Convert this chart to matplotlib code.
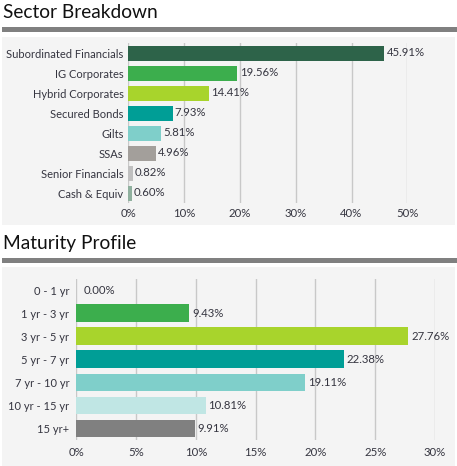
import matplotlib
matplotlib.use("Agg")
import matplotlib.pyplot as plt
from matplotlib.patches import Rectangle

W, H = 457, 466
DPI = 100

sector_labels = ["Subordinated Financials", "IG Corporates", "Hybrid Corporates",
                 "Secured Bonds", "Gilts", "SSAs", "Senior Financials", "Cash & Equiv"]
sector_values = [45.91, 19.56, 14.41, 7.93, 5.81, 4.96, 0.82, 0.60]
sector_colors = ["#2d6349", "#3cae4d", "#a8d42c", "#009e96", "#7fcfca",
                 "#a39f9b", "#c0c0c0", "#8fb09e"]
sector_ticks = [0, 10, 20, 30, 40, 50]

maturity_labels = ["0 - 1 yr", "1 yr - 3 yr", "3 yr - 5 yr", "5 yr - 7 yr",
                   "7 yr - 10 yr", "10 yr - 15 yr", "15 yr+"]
maturity_values = [0.00, 9.43, 27.76, 22.38, 19.11, 10.81, 9.91]
maturity_colors = ["#3cae4d", "#3cae4d", "#a8d42c", "#009e96", "#7fcfca",
                   "#c0e6e4", "#808080"]
maturity_ticks = [0, 5, 10, 15, 20, 25, 30]

plt.rcParams['font.family'] = ['Lato', 'DejaVu Sans']
TXT = "#353540"

fig = plt.figure(figsize=(W / DPI, H / DPI), dpi=DPI)
fig.patch.set_facecolor("white")


def px_rect(x0, y0, x1, y1):
    return [x0 / W, 1 - y1 / H, (x1 - x0) / W, (y1 - y0) / H]


def add_bg(x0, y0, x1, y1, color):
    r = Rectangle((x0 / W, 1 - y1 / H), (x1 - x0) / W, (y1 - y0) / H,
                  transform=fig.transFigure, facecolor=color, edgecolor="none", zorder=-10)
    fig.patches.append(r)


# Headers and panels
fig.text(3 / W, 1 - 12 / H, "Sector Breakdown", fontsize=13.8, color="#111111",
         ha="left", va="center")
add_bg(2, 27, 457, 32, "#808080")
add_bg(2, 37, 455, 225, "#f4f4f4")

fig.text(3 / W, 1 - 243 / H, "Maturity Profile", fontsize=13.8, color="#111111",
         ha="left", va="center")
add_bg(2, 258, 457, 263, "#808080")
add_bg(2, 267, 455, 466, "#f4f4f4")


def draw(ax, labels, values, colors, ticks, xmax, height, ypad, xpad):
    n = len(labels)
    ypos = list(range(n))
    ax.set_facecolor("none")
    ax.barh(ypos, values, color=colors, height=height, zorder=3)
    for y, v in zip(ypos, values):
        ax.text(v + xmax * 0.008 + (0.012 * xmax if v == 0 else 0), y, f"{v:.2f}%",
                va="center", ha="left", fontsize=8.2, color=TXT, zorder=4, clip_on=False)
    ax.set_xlim(0, xmax)
    ax.set_ylim(n - 0.5, -0.5)
    ax.set_yticks(ypos)
    ax.set_yticklabels(labels, fontsize=8, color=TXT)
    ax.set_xticks(ticks)
    ax.set_xticklabels([f"{t}%" for t in ticks], fontsize=8.2, color=TXT)
    ax.tick_params(axis="both", length=0)
    ax.tick_params(axis="y", pad=ypad)
    ax.tick_params(axis="x", pad=xpad)
    ax.grid(axis="x", color="#c8c8c8", linewidth=1, zorder=1)
    for s in ax.spines.values():
        s.set_visible(False)


ax1 = fig.add_axes(px_rect(128.3, 43, 407.3, 203))
draw(ax1, sector_labels, sector_values, sector_colors, sector_ticks, 50, 0.75, 3.5, 3.5)

ax2 = fig.add_axes(px_rect(76.3, 278.5, 435, 440))
draw(ax2, maturity_labels, maturity_values, maturity_colors, maturity_ticks, 30, 0.76, 5, 5)

fig.savefig("out.png", dpi=DPI)
